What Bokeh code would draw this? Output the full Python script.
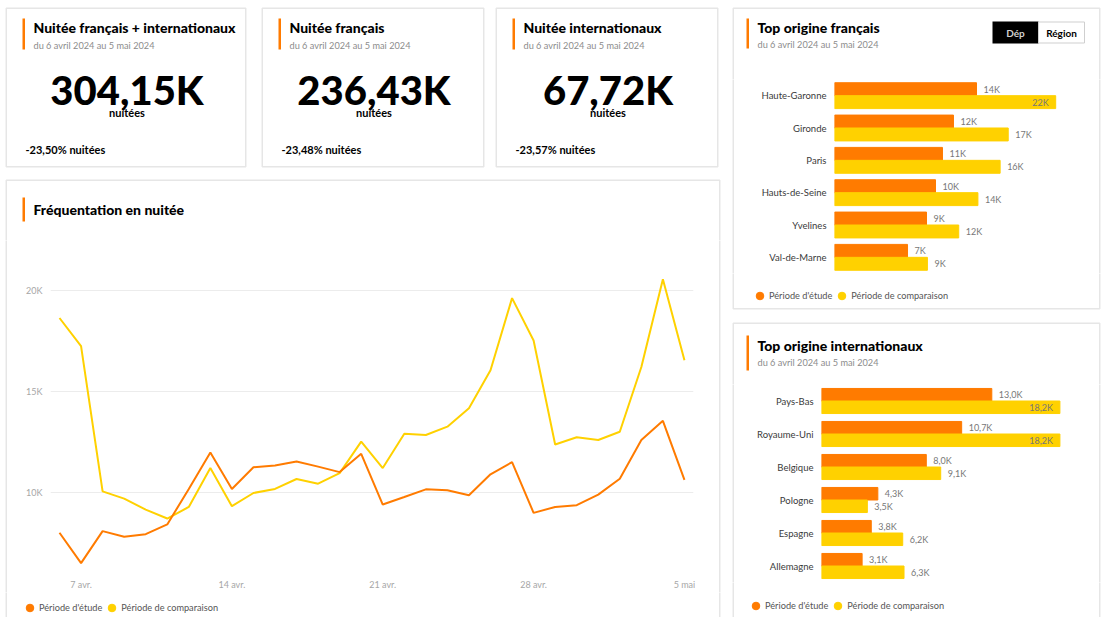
import pandas as pd
from bokeh.plotting import figure
from bokeh.layouts import row, column
from bokeh.models import (BoxAnnotation, Label, Range1d, FactorRange, ColumnDataSource,
                          FixedTicker, Legend, LegendItem)
from bokeh.transform import dodge
from bokeh.core.properties import value
from bokeh.embed import file_html
from bokeh.resources import INLINE

# ---------------- data ----------------
period = "du 6 avril 2024 au 5 mai 2024"
kpi_titles = ["Nuitée français + internationaux", "Nuitée français", "Nuitée internationaux"]
kpi_values = [304150, 236430, 67720]
kpi_changes = [-23.50, -23.48, -23.57]
kpi_unit = "nuitées"

dates = pd.date_range("2024-04-06", "2024-05-05", freq="D")
etude = [8040, 6540, 8120, 7840, 7970, 8450, 10200, 12000, 10200, 11270,
         11360, 11550, 11300, 11030, 11930, 9430, 9800, 10180, 10130, 9890,
         10920, 11520, 9020, 9310, 9400, 9920, 10700, 12610, 13560, 10650]
comparaison = [18630, 17240, 10080, 9720, 9180, 8740, 9310, 11230, 9350, 10000,
               10200, 10690, 10460, 10980, 12530, 11230, 12920, 12860, 13270, 14180,
               16050, 19610, 17520, 12390, 12750, 12610, 13020, 16210, 20540, 16550]
x_tick_dates = ["2024-04-07", "2024-04-14", "2024-04-21", "2024-04-28", "2024-05-05"]
x_tick_labels = ["7 avr.", "14 avr.", "21 avr.", "28 avr.", "5 mai"]
y_ticks = [10000, 15000, 20000]
y_tick_labels = ["10K", "15K", "20K"]

fr_cats = ["Haute-Garonne", "Gironde", "Paris", "Hauts-de-Seine", "Yvelines", "Val-de-Marne"]
fr_etude = [14060, 11780, 10690, 10000, 9110, 7230]
fr_comp = [21900, 17200, 16400, 14200, 12300, 9200]

int_cats = ["Pays-Bas", "Royaume-Uni", "Belgique", "Pologne", "Espagne", "Allemagne"]
int_etude = [13000, 10700, 8000, 4300, 3800, 3100]
int_comp = [18200, 18200, 9100, 3500, 6200, 6300]

series_names = ["Période d'étude", "Période de comparaison"]
toggle_labels = ["Dép", "Région"]

# ---------------- style ----------------
ORANGE = "#FF7B00"
YELLOW = "#FFD100"
CARD_LINE = "#e6e6e6"
HEAVY = "Lato Black"
BODY = "Lato"

# card rectangles (page pixels)
KPI_CARDS = [(5, 7, 246, 167), (261, 7, 484, 167), (495, 7, 718, 167)]
LINE_CARD = (5, 179, 720, 700)
FR_CARD = (732, 7, 1100, 309)
INT_CARD = (732, 322, 1100, 700)


def base_fig(x0, y0, x1, y1, **kw):
    p = figure(width=x1 - x0, height=y1 - y0, toolbar_location=None, output_backend="svg", **kw)
    p.outline_line_color = None
    p.background_fill_color = "white"
    p.border_fill_color = "white"
    p._org = (x0, y0)
    return p


def deco_fig(x0, y0, x1, y1):
    return base_fig(x0, y0, x1, y1, x_axis_type=None, y_axis_type=None,
                    x_range=Range1d(0, x1 - x0), y_range=Range1d(y1 - y0, 0), min_border=0)


def add_text(p, x, y, text, size, color="#252423", font=BODY, style="normal", align="left"):
    ox, oy = p._org
    p.add_layout(Label(x=x - ox, y=y - oy, x_units="canvas", y_units="canvas", text=text,
                       text_font_size=f"{size}px", text_color=color, text_font=font,
                       text_font_style=style, text_align=align, text_baseline="middle"))


def add_box(p, x0, y0, x1, y1, fill=None, line=None, lw=1.0):
    ox, oy = p._org
    p.add_layout(BoxAnnotation(left=x0 - ox, right=x1 - ox, top=y0 - oy, bottom=y1 - oy,
                               left_units="canvas", right_units="canvas",
                               top_units="canvas", bottom_units="canvas",
                               fill_color=fill, fill_alpha=1.0 if fill else 0.0,
                               line_color=line, line_width=lw, line_alpha=1.0 if line else 0.0))


def card(p, rect):
    x0, y0, x1, y1 = rect
    add_box(p, x0 + 0.75, y0 + 0.75, x1 - 0.75, y1 - 0.75, line=CARD_LINE, lw=1.5)


def header(p, x, y_title, y_sub, title, accent_top, accent_bot):
    add_box(p, x - 11, accent_top, x - 8.5, accent_bot, fill=ORANGE)
    add_text(p, x, y_title, title, 14, color="#000000", font=HEAVY, style="bold")
    if y_sub is not None:
        add_text(p, x, y_sub, period, 9.2, color="#8c8c8c")


def fr_num(v, dec):
    return f"{v:.{dec}f}".replace(".", ",")


G = 19
NAN = float("nan")


def add_legend(p, dot_x, dot_y):
    # legend frame == canvas for these decoration figures (min_border=0, no axes)
    ox, oy = p._org
    h = p.height
    r1 = p.scatter(x=[NAN], y=[NAN], marker="circle", size=8, color=ORANGE)
    r2 = p.scatter(x=[NAN], y=[NAN], marker="circle", size=8, color=YELLOW)
    leg = Legend(items=[LegendItem(label=series_names[0], renderers=[r1]),
                        LegendItem(label=series_names[1], renderers=[r2])],
                 orientation="horizontal",
                 location=(dot_x - ox - G / 2, h - (dot_y - oy) - G / 2),
                 glyph_width=G, glyph_height=G, label_height=G, padding=0, margin=0,
                 spacing=0, label_standoff=0, border_line_color=None,
                 background_fill_alpha=0, label_text_font_size="9.2px",
                 label_text_color="#555555", label_text_font=BODY)
    p.add_layout(leg, "center")


# ---------------- KPI row + line card header ----------------
kpi = deco_fig(0, 0, 726, 240)
for rect, t, v, c in zip(KPI_CARDS, kpi_titles, kpi_values, kpi_changes):
    x0, y0, x1, y1 = rect
    card(kpi, rect)
    header(kpi, x0 + 28, 26.5, 44.5, t, 18, 49)
    cx = (x0 + x1) / 2 + 1
    add_text(kpi, cx, 89, fr_num(v / 1000, 2) + "K", 40, color="#000000", font=HEAVY,
             style="bold", align="center")
    add_text(kpi, cx, 111.5, kpi_unit, 11, color="#000000", style="bold", align="center")
    add_text(kpi, x0 + 20, 148.5, f"{fr_num(c, 2)}% {kpi_unit}", 11, color="#000000",
             style="bold")
card(kpi, LINE_CARD)
header(kpi, 33, 209, None, "Fréquentation en nuitée", 197, 221)

# ---------------- line chart ----------------
x_idx = [(d - dates[0]).days for d in dates]
line_src = ColumnDataSource(dict(x=x_idx, etude=etude, comp=comparaison))
lf = base_fig(14, 240, 712, 592, x_range=Range1d(-0.418, 29.42), y_range=Range1d(5980, 22451),
              min_border_left=36, min_border_right=19, min_border_top=0, min_border_bottom=16)
lf.line("x", "comp", source=line_src, color=YELLOW, line_width=2)
lf.line("x", "etude", source=line_src, color=ORANGE, line_width=2)
tick_pos = [(pd.Timestamp(t) - dates[0]).days for t in x_tick_dates]
lf.xaxis.ticker = FixedTicker(ticks=tick_pos)
lf.xaxis.major_label_overrides = dict(zip(tick_pos, x_tick_labels))
lf.yaxis.ticker = FixedTicker(ticks=y_ticks)
lf.yaxis.major_label_overrides = dict(zip(y_ticks, y_tick_labels))
for ax in (lf.xaxis, lf.yaxis):
    ax.axis_line_color = None
    ax.major_tick_line_color = None
    ax.minor_tick_line_color = None
    ax.major_tick_out = 0
    ax.major_tick_in = 0
    ax.major_label_text_color = "#a6a6a6"
    ax.major_label_text_font_size = "9px"
    ax.major_label_text_font = BODY
lf.xaxis.major_label_standoff = 4
lf.yaxis.major_label_standoff = 8
lf.xgrid.grid_line_color = None
lf.ygrid.grid_line_color = "#ececec"
lf.ygrid.grid_line_width = 1

line_l = deco_fig(0, 240, 14, 592)
card(line_l, LINE_CARD)
line_r = deco_fig(712, 240, 726, 592)
card(line_r, LINE_CARD)
line_leg = deco_fig(0, 592, 726, 617)
card(line_leg, LINE_CARD)
add_legend(line_leg, 29.5, 607)

# side strips wrapped in their own columns so their frames are not aligned to the chart frame
left_col = column(kpi, row(column(line_l), lf, column(line_r)), line_leg)


# ---------------- bar charts ----------------
def bar_chart(x0, y0, x1, y1, frame_left, cats, e_vals, c_vals, scale, bar_h, label_fmt):
    frame_w = x1 - frame_left
    xend = frame_w / scale * 1000
    p = base_fig(x0, y0, x1, y1, x_range=Range1d(0, xend),
                 y_range=FactorRange(factors=list(reversed(cats))),
                 x_axis_location=None, min_border_left=frame_left - x0, min_border_right=0,
                 min_border_top=0, min_border_bottom=0)
    src = ColumnDataSource(dict(cat=cats, etude=e_vals, comp=c_vals,
                                elbl=[label_fmt(v) for v in e_vals]))
    p.hbar(y=dodge("cat", bar_h / 2, range=p.y_range), left=0, right="etude", height=bar_h,
           source=src, color=ORANGE)
    p.hbar(y=dodge("cat", -bar_h / 2, range=p.y_range), left=0, right="comp", height=bar_h,
           source=src, color=YELLOW)
    p.text(x="etude", y=dodge("cat", bar_h / 2, range=p.y_range), text="elbl", source=src,
           x_offset=7, text_baseline="middle", text_font_size="9px", text_color="#777777",
           text_font=value(BODY))
    out_c = [(c, v) for c, v in zip(cats, c_vals) if v / xend < 0.8]
    in_c = [(c, v) for c, v in zip(cats, c_vals) if v / xend >= 0.8]
    for group, off, align in ((out_c, 7, "left"), (in_c, -7, "right")):
        if group:
            s = ColumnDataSource(dict(cat=[g[0] for g in group], comp=[g[1] for g in group],
                                      lbl=[label_fmt(g[1]) for g in group]))
            p.text(x="comp", y=dodge("cat", -bar_h / 2, range=p.y_range), text="lbl", source=s,
                   x_offset=off, text_align=align, text_baseline="middle", text_font_size="9px",
                   text_color="#777777", text_font=value(BODY))
    p.yaxis.axis_line_color = None
    p.yaxis.major_tick_line_color = None
    p.yaxis.minor_tick_line_color = None
    p.yaxis.major_tick_out = 0
    p.yaxis.major_tick_in = 0
    p.yaxis.major_label_standoff = 8
    p.yaxis.major_label_text_font_size = "9.5px"
    p.yaxis.major_label_text_color = "#3a3a3a"
    p.yaxis.major_label_text_font = BODY
    p.xgrid.visible = False
    p.ygrid.visible = False
    return p


RX0, RX1 = 726, 1101
CL, CR = 740, 1085

t1 = deco_fig(RX0, 0, RX1, 79)
card(t1, FR_CARD)
header(t1, 757, 26.5, 44, "Top origine français", 18, 48)
add_box(t1, 992, 21, 1038, 43, fill="#000000")
add_box(t1, 1038, 21.5, 1084, 42.5, fill="#ffffff", line="#cfcfcf", lw=1)
add_text(t1, 1015, 32, toggle_labels[0], 10, color="#d0d0d0", style="bold", align="center")
add_text(t1, 1061, 32, toggle_labels[1], 10, color="#000000", style="bold", align="center")

b1 = bar_chart(CL, 79, CR, 273, 834, fr_cats, fr_etude, fr_comp, 10.1, 0.4,
               lambda v: f"{round(v / 1000)}K")
b1_l = deco_fig(RX0, 79, CL, 273)
card(b1_l, FR_CARD)
b1_r = deco_fig(CR, 79, RX1, 273)
card(b1_r, FR_CARD)

mid = deco_fig(RX0, 273, RX1, 384)
card(mid, FR_CARD)
card(mid, INT_CARD)
add_legend(mid, 759.5, 295)
header(mid, 757, 345, 362, "Top origine internationaux", 335, 370)

b2 = bar_chart(CL, 384, CR, 582, 821, int_cats, int_etude, int_comp, 13.1, 0.38,
               lambda v: fr_num(v / 1000, 1) + "K")
b2_l = deco_fig(RX0, 384, CL, 582)
card(b2_l, INT_CARD)
b2_r = deco_fig(CR, 384, RX1, 582)
card(b2_r, INT_CARD)

bot = deco_fig(RX0, 582, RX1, 617)
card(bot, INT_CARD)
add_legend(bot, 755.5, 605)

right_col = column(t1, row(b1_l, b1, b1_r), mid, row(b2_l, b2, b2_r), bot)

layout = row(left_col, right_col)
open("out.html", "w").write(file_html(layout, INLINE))
